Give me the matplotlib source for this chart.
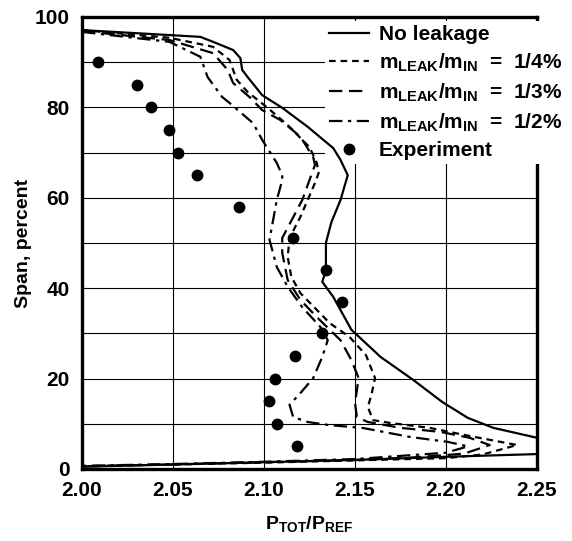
import matplotlib
matplotlib.use("Agg")
import matplotlib.pyplot as plt
from matplotlib.ticker import MultipleLocator

plt.rcParams['font.family'] = ['Liberation Sans', 'DejaVu Sans']
plt.rcParams['font.weight'] = 'bold'
plt.rcParams['axes.labelweight'] = 'bold'
plt.rcParams['mathtext.fontset'] = 'custom'
plt.rcParams['mathtext.rm'] = 'Liberation Sans:bold'
plt.rcParams['mathtext.default'] = 'rm'

# total pressure ratio vs span, no leakage case
p_noleak = [2.000, 2.048, 2.065, 2.072, 2.083, 2.087, 2.088, 2.091, 2.099, 2.110,
            2.124, 2.138, 2.142, 2.146, 2.142, 2.137, 2.134, 2.134, 2.132, 2.138,
            2.148, 2.164, 2.182, 2.198, 2.212, 2.226, 2.250, 2.262, 2.250, 2.200,
            2.150, 2.100, 2.050, 2.000]
span_noleak = [97.1, 96.0, 95.6, 94.5, 92.7, 90.9, 88.3, 86.7, 82.7, 79.9,
               75.7, 71.0, 68.4, 65.0, 59.5, 54.6, 50.0, 44.0, 41.4, 38.1,
               30.8, 24.8, 19.7, 14.8, 11.3, 9.1, 6.9, 5.0, 3.3, 2.7,
               2.0, 1.5, 1.0, 0.5]

# leakage 1/4 %
p_leak14 = [2.000, 2.048, 2.072, 2.081, 2.085, 2.091, 2.102, 2.114, 2.125, 2.129,
            2.130, 2.128, 2.120, 2.114, 2.113, 2.115, 2.120, 2.129, 2.136, 2.147,
            2.156, 2.161, 2.159, 2.157, 2.160, 2.169, 2.191, 2.213, 2.239, 2.220,
            2.200, 2.150, 2.100, 2.050, 2.000]
span_leak14 = [97.1, 95.4, 93.4, 90.5, 86.1, 83.4, 79.9, 75.7, 71.2, 67.7,
               65.5, 63.3, 55.8, 51.1, 46.9, 42.5, 38.9, 35.2, 32.3, 29.2,
               25.2, 20.1, 16.4, 13.7, 10.8, 10.2, 9.1, 7.3, 5.3, 3.2,
               2.4, 1.9, 1.4, 1.0, 0.6]

# leakage 1/3 %
p_leak13 = [2.000, 2.048, 2.072, 2.080, 2.083, 2.092, 2.099, 2.109, 2.120, 2.127,
            2.128, 2.121, 2.110, 2.110, 2.113, 2.120, 2.129, 2.142, 2.148, 2.152,
            2.150, 2.151, 2.157, 2.175, 2.197, 2.213, 2.224, 2.210, 2.180, 2.150,
            2.100, 2.050, 2.000]
span_leak13 = [96.9, 94.9, 92.0, 88.3, 85.4, 82.3, 79.4, 77.2, 73.5, 69.0,
               67.3, 59.5, 51.1, 47.8, 41.8, 37.4, 33.6, 28.5, 24.1, 20.1,
               14.6, 11.5, 10.4, 9.1, 8.2, 6.9, 5.3, 3.4, 2.5, 2.0,
               1.5, 1.0, 0.6]

# leakage 1/2 %
p_leak12 = [2.000, 2.048, 2.065, 2.069, 2.077, 2.081, 2.094, 2.099, 2.107, 2.110,
            2.110, 2.107, 2.103, 2.107, 2.113, 2.121, 2.131, 2.135, 2.132, 2.127,
            2.120, 2.114, 2.116, 2.124, 2.136, 2.154, 2.180, 2.201, 2.212, 2.200,
            2.150, 2.100, 2.050, 2.000]
span_leak12 = [96.7, 94.5, 91.2, 86.7, 82.3, 81.0, 76.5, 72.8, 67.7, 65.0,
               63.9, 59.5, 50.7, 44.7, 40.3, 35.8, 31.4, 28.5, 24.8, 20.1,
               16.8, 14.2, 11.5, 10.4, 9.7, 9.1, 7.1, 6.0, 5.0, 3.6,
               2.2, 1.6, 1.1, 0.7]

# measured points
p_exp = [2.009, 2.030, 2.038, 2.048, 2.053, 2.063, 2.086, 2.116, 2.134, 2.143,
         2.132, 2.117, 2.106, 2.103, 2.107, 2.118]
span_exp = [90, 85, 80, 75, 70, 65, 58, 51, 44, 37, 30, 25, 20, 15, 10, 5]

labels = ['No leakage',
          r'm$_{\mathrm{LEAK}}$/m$_{\mathrm{IN}}$  =  1/4%',
          r'm$_{\mathrm{LEAK}}$/m$_{\mathrm{IN}}$  =  1/3%',
          r'm$_{\mathrm{LEAK}}$/m$_{\mathrm{IN}}$  =  1/2%',
          'Experiment']

fig = plt.figure(figsize=(5.72, 5.41), dpi=100)
ax = fig.add_axes([0.1434, 0.1331, 0.7955, 0.8355])

ax.plot(p_noleak, span_noleak, color='black', lw=1.6, label=labels[0])
ax.plot(p_leak14, span_leak14, color='black', lw=1.6, dashes=(3, 2.2), label=labels[1])
ax.plot(p_leak13, span_leak13, color='black', lw=1.6, dashes=(6, 3), label=labels[2])
ax.plot(p_leak12, span_leak12, color='black', lw=1.6, dashes=(6, 2.5, 1.5, 2.5), label=labels[3])
ax.plot(p_exp, span_exp, 'o', color='black', ms=7.5, label=labels[4])

ax.set_xlim(2.00, 2.25)
ax.set_ylim(0, 100)
ax.xaxis.set_major_locator(MultipleLocator(0.05))
ax.yaxis.set_major_locator(MultipleLocator(20))
ax.yaxis.set_minor_locator(MultipleLocator(10))
ax.xaxis.set_major_formatter(plt.FormatStrFormatter('%.2f'))
ax.grid(True, which='both', color='black', lw=0.8)
ax.set_axisbelow(True)
ax.tick_params(which='both', length=0, labelsize=15, pad=9)
for s in ax.spines.values():
    s.set_linewidth(2.4)
# legend sits over the right spine, under the curves
ax.spines['right'].set_zorder(1.2)

ax.set_ylabel('Span, percent', fontsize=14, labelpad=2)
ax.set_xlabel(r'P$_{\mathrm{TOT}}$/P$_{\mathrm{REF}}$', fontsize=14, labelpad=10)

leg = ax.legend(loc='upper left', bbox_to_anchor=(0.52, 1.005), fontsize=15,
                frameon=True, facecolor='white', edgecolor='none', framealpha=1,
                fancybox=False, handlelength=1.9, handletextpad=0.5,
                labelspacing=0.36, borderpad=0.2, borderaxespad=0.3,
                numpoints=1)
leg.set_zorder(1.5)

fig.savefig('out.png', dpi=100)
